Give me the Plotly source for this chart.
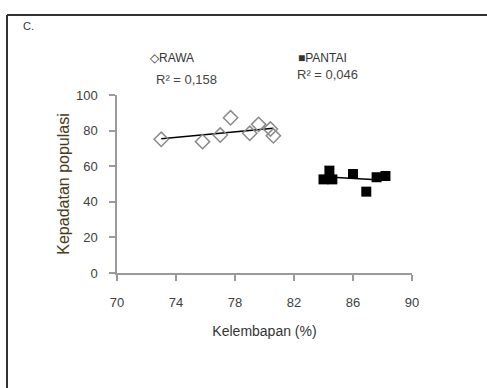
import numpy as np
import plotly.graph_objects as go

# Data
rawa_x = [73.0, 75.8, 77.0, 77.7, 79.0, 79.6, 80.4, 80.6]
rawa_y = [75.1, 73.8, 77.5, 87.2, 78.5, 83.5, 80.9, 77.1]
pantai_x = [84.0, 84.4, 84.6, 86.0, 86.9, 87.6, 88.2]
pantai_y = [52.6, 57.5, 52.6, 55.6, 45.7, 53.8, 54.5]
x_ticks = [70, 74, 78, 82, 86, 90]
y_ticks = [0, 20, 40, 60, 80, 100]
r2_labels = ["R² = 0,158", "R² = 0,046"]
series_names = ["RAWA", "PANTAI"]

FONT = "Liberation Sans"
TXT = "#404040"

def trend(xs, ys):
    m, b = np.polyfit(xs, ys, 1)
    x0, x1 = min(xs), max(xs)
    return [x0, x1], [m * x0 + b, m * x1 + b]

fig = go.Figure()
tx, ty = trend(rawa_x, rawa_y)
fig.add_trace(go.Scatter(x=tx, y=ty, mode="lines", line=dict(color="black", width=1.5), showlegend=False))
tx, ty = trend(pantai_x, pantai_y)
fig.add_trace(go.Scatter(x=tx, y=ty, mode="lines", line=dict(color="black", width=1.5), showlegend=False))
fig.add_trace(go.Scatter(x=rawa_x, y=rawa_y, mode="markers", name=series_names[0],
                         marker=dict(symbol="diamond-open", size=11, color="#8a8a8a", line=dict(width=1.5, color="#8a8a8a")),
                         showlegend=False))
fig.add_trace(go.Scatter(x=pantai_x, y=pantai_y, mode="markers", name=series_names[1],
                         marker=dict(symbol="square", size=10, color="black"),
                         showlegend=False))

W, H = 487, 388
L, R, T, B = 117, 75, 95, 115
pw, ph = W - L - R, H - T - B
def px(x): return (x - L) / pw
def py(y): return (H - B - y) / ph

fig.update_layout(
    width=W, height=H,
    margin=dict(l=L, r=R, t=T, b=B),
    paper_bgcolor="white", plot_bgcolor="white",
    font=dict(family=FONT, color=TXT, size=12),
    xaxis=dict(range=[70, 90], tickvals=x_ticks, showgrid=False, zeroline=False,
               showline=True, linecolor="#9a9a9a", linewidth=1.5,
               ticks="outside", ticklen=6, tickcolor="#9a9a9a", tickwidth=1.5,
               ticklabelstandoff=11,
               tickfont=dict(size=13, color=TXT),
               title=dict(text="Kelembapan (%)", font=dict(size=14, color="#333"), standoff=17)),
    yaxis=dict(range=[0, 100], tickvals=y_ticks, showgrid=False, zeroline=False,
               showline=True, linecolor="#9a9a9a", linewidth=1.5,
               ticks="outside", ticklen=6, tickcolor="#9a9a9a", tickwidth=1.5,
               ticklabelstandoff=9,
               tickfont=dict(size=13, color=TXT),
               title=dict(text="Kepadatan populasi", font=dict(size=16, color="#4a3a20"), standoff=2)),
    shapes=[
        dict(type="line", xref="paper", yref="paper", x0=px(7), x1=px(7), y0=py(400), y1=py(15),
             line=dict(color="#333", width=2)),
        dict(type="line", xref="paper", yref="paper", x0=px(7), x1=px(500), y0=py(15), y1=py(15),
             line=dict(color="#333", width=2)),
    ],
    annotations=[
        dict(text="C.", xref="paper", yref="paper", x=px(21), y=py(26), xanchor="left", yanchor="middle",
             showarrow=False, font=dict(size=11, color="#333")),
        dict(text="◇" + series_names[0], xref="paper", yref="paper", x=px(148), y=py(58), xanchor="left", yanchor="middle",
             showarrow=False, font=dict(size=12, color="#333")),
        dict(text="■" + series_names[1], xref="paper", yref="paper", x=px(296), y=py(58), xanchor="left", yanchor="middle",
             showarrow=False, font=dict(size=12, color="#333")),
        dict(text=r2_labels[0], xref="paper", yref="paper", x=px(186), y=py(79), xanchor="center", yanchor="middle",
             showarrow=False, font=dict(size=13, color="#444")),
        dict(text=r2_labels[1], xref="paper", yref="paper", x=px(327), y=py(75), xanchor="center", yanchor="middle",
             showarrow=False, font=dict(size=13, color="#444")),
    ],
)

fig.write_html("out.html", config={"displayModeBar": False},
               post_script="document.body.style.margin='0';")
